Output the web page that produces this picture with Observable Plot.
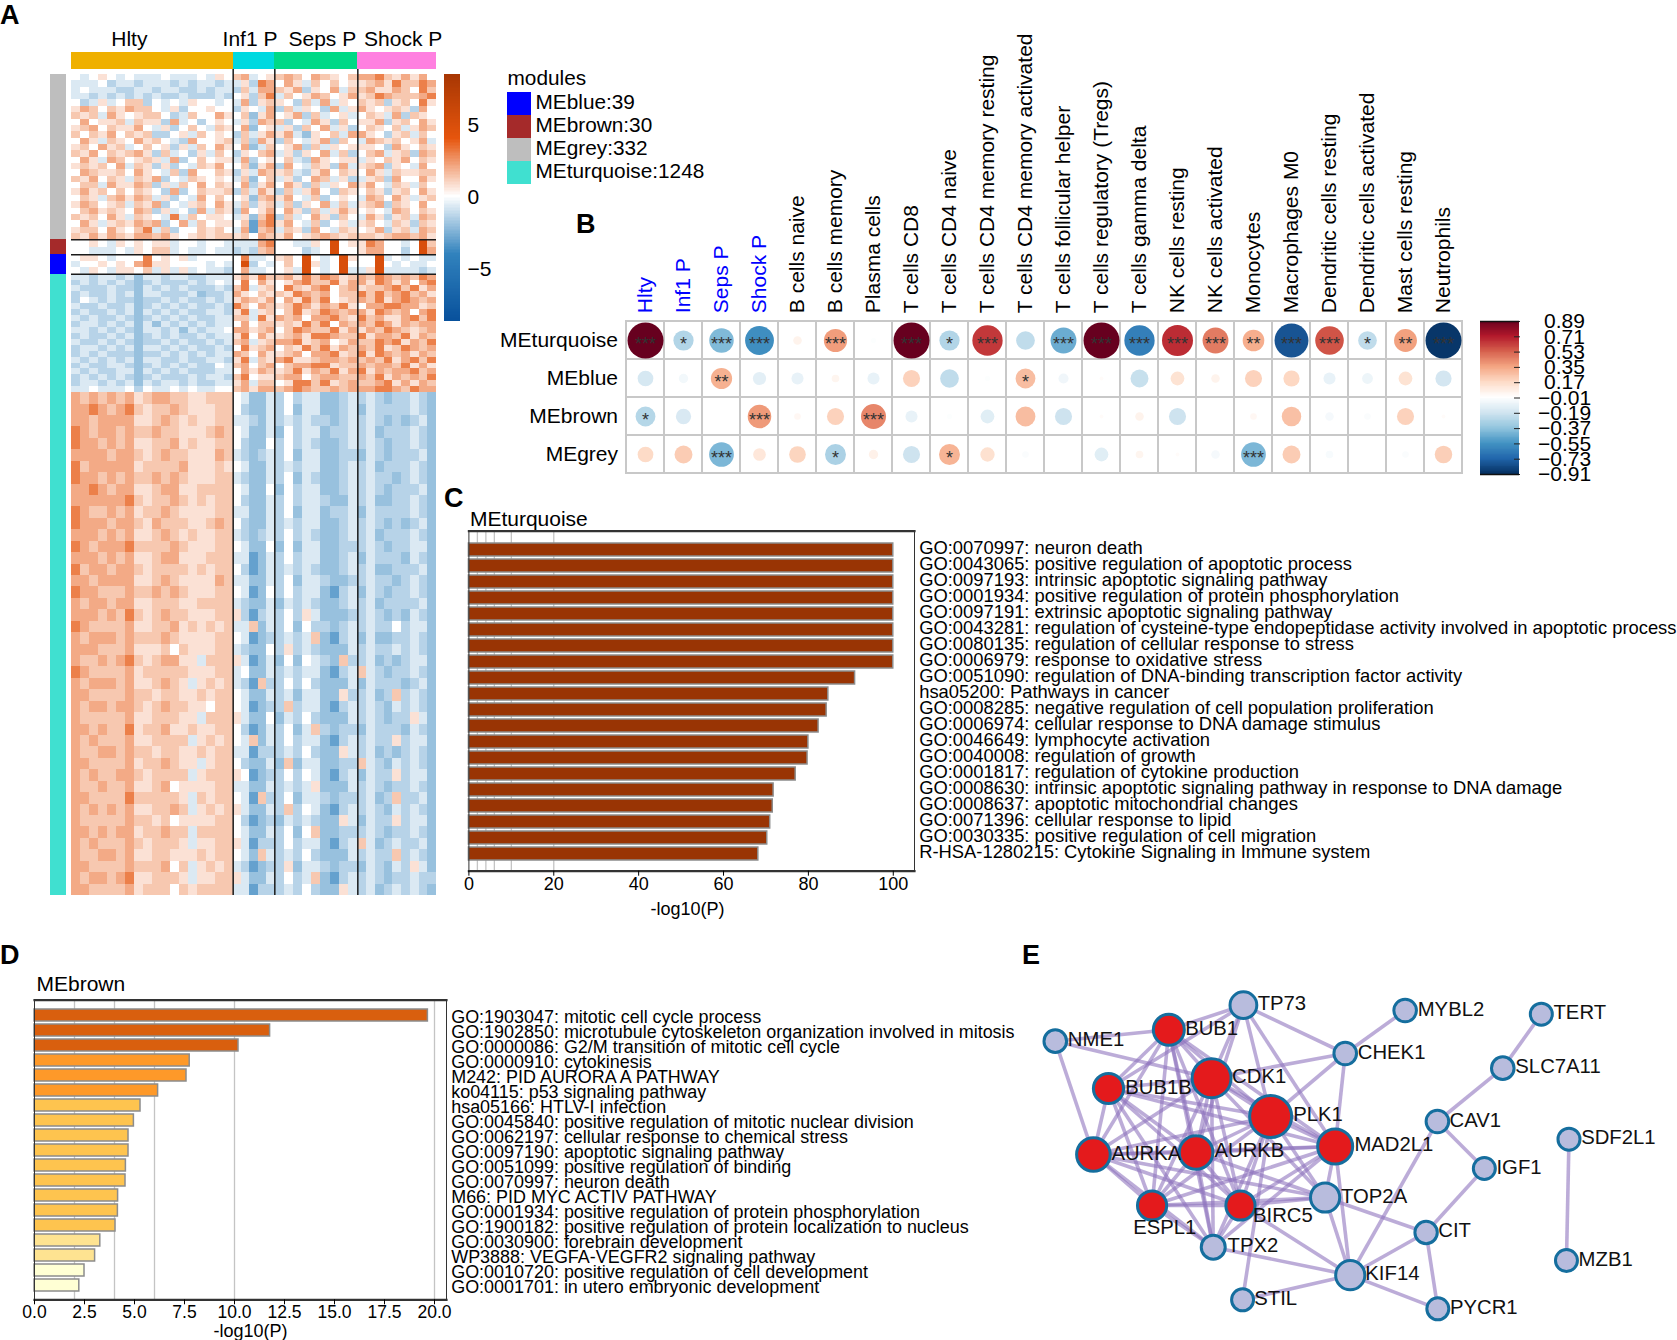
<!DOCTYPE html>
<html lang="en">
<head>
<meta charset="utf-8">
<title>Module, immune and enrichment panels</title>
<script src="https://cdn.jsdelivr.net/npm/d3@7"></script>
<script src="https://cdn.jsdelivr.net/npm/@observablehq/plot@0.6"></script>
<style>
html,body{margin:0;padding:0;background:#fff}
#page{position:relative;width:1677px;height:1340px;overflow:hidden;font-family:"Liberation Sans",Arial,sans-serif;color:#000}
.letter{position:absolute;font-weight:bold;font-size:27px;line-height:27px}
</style>
</head>
<body>
<div id="page"></div>
<script>
/* ---------- Panel A data ---------- */
const groups = ["Hlty", "Inf1 P", "Seps P", "Shock P"];
const groupColors = ["#EFB000", "#00D9E0", "#00D987", "#FF80E0"];
const groupStarts = [0, 35.88, 45.12, 63.54];
const groupEnds = [35.88, 45.12, 63.54, 81];
const groupCols = [18, 5, 9, 9];
const groupLabelShift = [-23, -4, 6, 6];
const modules = ["MEblue", "MEbrown", "MEgrey", "MEturquoise"];
const moduleCounts = [39, 30, 332, 1248];
const moduleColors = ["#0000FF", "#A52A2A", "#BEBEBE", "#40E0D0"];
const heatLevels = [-4, -3, -2, -1.4, -0.7, 0, 0.7, 1.3, 2, 3, 5];
const greyRows = [
"545654544454445465 78456 787587657 889768685",
"444534434443434434 46398 586475756 678697798",
"454443344344334344 37488 768365847 786687597",
"443434343433433343 56379 475687568 679877789",
"534645773545465545 48367 653748465 767367596",
"687576877546355655 36548 374653846 865676385",
"767486567753475586 57268 568374564 576483765",
"585667476638453565 46387 735486375 668367586",
"678576685463575476 58256 463758463 576574687",
"757685767335647565 37468 684265748 865367475",
"586476586754385567 47386 375468375 487675684",
"675867457563647586 58247 568374656 665386576",
"768576786374536475 36578 463658473 578467387",
"586487567648357566 48356 574386566 465768576",
"676758476363547685 57268 385476384 678365485",
"587667586547385576 36487 674368576 586476677",
"768576476835476565 47257 463587463 467385586",
"577486687364758576 58368 586374658 685476475",
"686757576538357667 37486 374685376 576367586",
"576478687463548575 56278 685473565 487586467",
"687567476835467586 47367 473658474 678376585",
"578676587364538476 38568 586374686 565487576",
"767586476549475665 46279 374586375 486367487",
"586467687835847566 57189 685473564 675476376",
"677586579473557675 48178 476385476 568367487",
"768687688786567677 67587 685678767 776788786"];
const brownRows = [
"556546565664554554 44489 554465a56 698554 5a7",
"554445465774544544 34378 555345a55 688553 5a8"];
const blueRows = [
"566545559565645555 59445 675a545a6 55a454544",
"455656589665555454 5a354 575a645a5 55a545445",
"546546657464645443 58445 564a545a4 46a444434"];
const turqUpRows = [
"443443424434433444 68697 786979867 879878798",
"343434323433343454 59586 568977968 869868589",
"433343324343433343 79467 597689578 677897968",
"343343424433342334 86576 769878577 979789786",
"354343323343433434 68768 586979567 879689878",
"433433423434343343 97587 679868796 588998867",
"343343424343433443 69467 579679878 869878589",
"434334323434343344 77496 878588976 978668979",
"344343424243434344 58577 676979587 879868788",
"443434324434243445 88678 579877968 687987678",
"343343423434334344 69586 678699877 968879687",
"433434323343433434 78467 889678568 779896879",
"344343424434343343 59678 576979687 879679878",
"343433323343434344 87586 678588967 969878687",
"434343424433433443 69476 896678878 787968979",
"343344323434343354 78578 578899677 878879686",
"434334424343433344 58687 679687968 968788978",
"343434323433343443 79566 788578877 879687879",
"344343424344343344 68477 569979678 778968687",
"445444535445454455 78688 789877878 889987988"];
const turqDownRows = [
"878787867887766777 54224 353442234 343233432",
"889878976778766677 53224 352442234 243333432",
"887888866787676677 44324 343433234 343232342",
"987887877877666787 54224 253442334 342333432",
"988787866778676677 53225 353432234 343233432",
"888878876787766687 43234 352442233 243233342",
"978888867777866676 54224 343442234 342333432",
"988787877878766677 43224 352432234 343323432",
"889878866788667777 54225 253442234 343233342",
"888888976778767677 53224 353443224 342233432",
"987787867787666677 44224 352442334 243333432",
"988878876877766787 53224 343442234 343232342",
"888787866787676677 43234 353432234 342333432",
"987888977778766677 54225 252442233 343233442",
"888787866788666777 44124 353442234 243332432",
"978878876777767677 53124 343432234 342233342",
"887888866787666687 44224 352443223 343323432",
"988777877878766677 54125 353442134 243233432",
"878878866777667777 43224 243432234 342333342",
"888787976787766677 63134 353642223 343232432",
"987777866778676767 44724 352533234 343353442",
"878887877787666677 54123 343472134 242233432",
"888777866675766677 43225 363432224 343343432",
"877878976788664777 64124 252543273 342323442",
"987777867777766677 45224 343442134 743233432",
"878887866787646767 43173 353532224 243332342",
"887777877677667677 54224 342442263 342373432",
"878878876787766577 54123 373442134 343243432",
"877777866777664777 64225 243532224 343233642",
"887877967786676677 53124 352473233 243332432",
"878777866777746767 54724 353442134 343363442",
"877887877677667677 44133 343532264 342323432",
"887777867787664677 53224 272442233 743243432",
"878778876777746777 65123 353542134 243363442",
"877877866785666677 44224 343462224 343233432",
"887777977777647677 54173 352443233 342373342",
"878787866778746767 64224 373542134 343243432",
"877777877675666677 53123 243432264 243363442",
"887878867787747777 54224 352572233 343233432",
"878777876777646677 64133 353442134 742343342",
"877887866776667677 54274 343532224 343373432",
"887777877785746767 43123 362443233 243243642",
"878878966777646677 64224 353472134 343233433",
"887777867775767777 44133 343532264 342343432"];
const blockRows = [greyRows, brownRows, blueRows, turqUpRows, turqDownRows];
const blockStart = [0, 332, 362, 401, 639];
const blockEnd = [332, 362, 401, 639, 1649];
const sideBars = [["MEgrey", 0, 332], ["MEbrown", 332, 362], ["MEblue", 362, 401], ["MEturquoise", 401, 1649]];
const splitRows = [332, 362, 401];
const splitCols = [35.88, 45.12, 63.54];
const heatTicks = [-5, 0, 5];

/* ---------- Panel B data ---------- */
const traits = ["Hlty","Inf1 P","Seps P","Shock P","B cells naive","B cells memory","Plasma cells","T cells CD8","T cells CD4 naive","T cells CD4 memory resting","T cells CD4 memory activated","T cells follicular helper","T cells regulatory (Tregs)","T cells gamma delta","NK cells resting","NK cells activated","Monocytes","Macrophages M0","Dendritic cells resting","Dendritic cells activated","Mast cells resting","Neutrophils"];
const corrModules = ["MEturquoise", "MEblue", "MEbrown", "MEgrey"];
const corrTurquoise = [.89,-.28,-.41,-.57,.05,.37,-.02,.89,-.28,.63,-.24,-.46,.89,-.63,.66,.46,.32,-.79,.56,-.24,.36,-.89];
const corrBlue = [-.17,-.06,.31,-.12,-.1,.04,-.1,.2,-.24,-.02,.27,-.07,.01,-.22,.13,.05,.2,.18,-.1,-.08,.13,-.18];
const corrBrown = [-.27,-.16,0,.38,.03,.2,.43,-.1,-.02,-.13,.27,-.2,.01,.05,-.2,0,.03,.26,-.05,-.03,.2,.01];
const corrGrey = [.17,.22,-.42,.11,.19,-.3,.06,-.2,.3,.14,-.03,0,-.13,.04,.01,-.05,-.42,.22,-.04,0,-.03,.21];
const starsTurquoise = ["***","*","***","***","","***","","***","*","***","","***","***","***","***","***","**","***","***","*","**","***"];
const starsBlue = ["","","**","","","","","","","","*","","","","","","","","","","",""];
const starsBrown = ["*","","","***","","","***","","","","","","","","","","","","","","",""];
const starsGrey = ["","","***","","","*","","","*","","","","","","","","***","","","","",""];
const corrTicks = [.89,.71,.53,.35,.17,-.01,-.19,-.37,-.55,-.73,-.91];
const corrColors = ["#67001F","#B2182B","#D6604D","#F4A582","#FDDBC7","#FFFFFF","#D1E5F0","#92C5DE","#4393C3","#2166AC","#053061"];

/* ---------- Panel C data ---------- */
const turqTerms = ["GO:0070997: neuron death","GO:0043065: positive regulation of apoptotic process","GO:0097193: intrinsic apoptotic signaling pathway","GO:0001934: positive regulation of protein phosphorylation","GO:0097191: extrinsic apoptotic signaling pathway","GO:0043281: regulation of cysteine-type endopeptidase activity involved in apoptotic process","GO:0080135: regulation of cellular response to stress","GO:0006979: response to oxidative stress","GO:0051090: regulation of DNA-binding transcription factor activity","hsa05200: Pathways in cancer","GO:0008285: negative regulation of cell population proliferation","GO:0006974: cellular response to DNA damage stimulus","GO:0046649: lymphocyte activation","GO:0040008: regulation of growth","GO:0001817: regulation of cytokine production","GO:0008630: intrinsic apoptotic signaling pathway in response to DNA damage","GO:0008637: apoptotic mitochondrial changes","GO:0071396: cellular response to lipid","GO:0030335: positive regulation of cell migration","R-HSA-1280215: Cytokine Signaling in Immune system"];
const turqValues = [100,100,100,100,100,100,100,100,91,84.7,84.3,82.4,80,79.8,77,71.8,71.6,71,70.3,68.2];
const turqGrid = [2,4,6,10,20];
const turqTicks = [0,20,40,60,80,100];

/* ---------- Panel D data ---------- */
const brownTerms = ["GO:1903047: mitotic cell cycle process","GO:1902850: microtubule cytoskeleton organization involved in mitosis","GO:0000086: G2/M transition of mitotic cell cycle","GO:0000910: cytokinesis","M242: PID AURORA A PATHWAY","ko04115: p53 signaling pathway","hsa05166: HTLV-I infection","GO:0045840: positive regulation of mitotic nuclear division","GO:0062197: cellular response to chemical stress","GO:0097190: apoptotic signaling pathway","GO:0051099: positive regulation of binding","GO:0070997: neuron death","M66: PID MYC ACTIV PATHWAY","GO:0001934: positive regulation of protein phosphorylation","GO:1900182: positive regulation of protein localization to nucleus","GO:0030900: forebrain development","WP3888: VEGFA-VEGFR2 signaling pathway","GO:0010720: positive regulation of cell development","GO:0001701: in utero embryonic development"];
const brownValues = [19.67,11.78,10.2,7.76,7.6,6.18,5.3,4.97,4.7,4.7,4.57,4.55,4.18,4.17,4.05,3.29,3.03,2.5,2.24];
const brownGrid = [2,4,6,10,20];
const brownTicks = [0,2.5,5,7.5,10,12.5,15,17.5,20];
const pBins = [3,4,6,10,20];
const pColors = ["#FFFFD4","#FEE391","#FEC44F","#FE9929","#D95F0E","#993404"];

/* ---------- Panel E data ---------- */
const geneNames = ["TP73","BUB1","NME1","CDK1","BUB1B","CHEK1","MYBL2","TERT","SLC7A11","PLK1","CAV1","MAD2L1","AURKA","AURKB","SDF2L1","IGF1","TOP2A","ESPL1","BIRC5","CIT","TPX2","KIF14","MZB1","STIL","PYCR1"];
const geneX = [532,354,83,456,210,775,918,1243,1151,597,995,751,174,419,1309,1107,727,314,525,968,460,787,1303,530,996];
const geneY = [224,298,332,443,474,369,240,251,413,558,573,648,672,666,626,714,801,825,825,906,950,1034,990,1108,1135];
const geneSize = [13.4,15.5,11.3,19.5,15.1,11.3,11.3,11,11.3,21,11.3,17.5,16.8,16.8,11,11,14.6,14.6,14.6,11.2,12,14.6,11,11,11];
const geneLabelX = [566,393,113,505,250,805,948,1272,1181,651,1024,797,217,463,1338,1136,765,269,555,997,494,823,1332,558,1025];
const geneLabelY = [220,294,328,437,470,365,236,247,409,553,569,642,668,660,621,710,797,892,856,901,945,1028,986,1105,1130];
const hubGenes = ["BUB1","CDK1","BUB1B","PLK1","MAD2L1","AURKA","AURKB","ESPL1","BIRC5"];
const extraLinks = {
  TP73:["BUB1","CDK1","PLK1","BUB1B","CHEK1","AURKB","MAD2L1"],
  NME1:["BUB1","AURKA","CDK1"],
  CHEK1:["CDK1","PLK1","MAD2L1","MYBL2"],
  TPX2:["BIRC5","ESPL1","AURKA","AURKB","BUB1","CDK1","PLK1","BUB1B","MAD2L1","KIF14"],
  TOP2A:["PLK1","CDK1","MAD2L1","AURKA","AURKB","BIRC5","ESPL1","KIF14","CIT"],
  STIL:["KIF14","PLK1"],
  KIF14:["BIRC5","MAD2L1","CIT","PYCR1","CAV1"],
  CIT:["IGF1","PYCR1"],
  CAV1:["IGF1","SLC7A11"],
  SLC7A11:["TERT"],
  SDF2L1:["MZB1"]
};

/* ---------- Helpers ---------- */
const page = document.getElementById("page");
const baseStyle = {background:"transparent", fontFamily:'"Liberation Sans",Arial,sans-serif', color:"#000", overflow:"visible"};
function mount(node, left, top){
  node.style.position = "absolute"; node.style.left = left+"px"; node.style.top = top+"px"; node.style.maxWidth = "none";
  page.append(node);
}
function letter(t, left, top){
  const d = document.createElement("div"); d.className = "letter"; d.textContent = t;
  d.style.left = left+"px"; d.style.top = top+"px"; page.append(d);
}
letter("A",0,2); letter("B",576,211); letter("C",444,485); letter("D",0,942); letter("E",1022,942);

/* ---------- Panel A heatmap ---------- */
const levelKey = "0123456789a";
const colEdges = [];
groupCols.forEach((n,g)=>{
  for(let k=0;k<n;k++) colEdges.push([groupStarts[g]+k*(groupEnds[g]-groupStarts[g])/n, groupStarts[g]+(k+1)*(groupEnds[g]-groupStarts[g])/n]);
});
const cells = [];
blockRows.forEach((rows,b)=>{
  const h = (blockEnd[b]-blockStart[b])/rows.length;
  rows.forEach((row,i)=>{
    const chars = [...row.replace(/ /g,"")];
    if(chars.length!==41) throw new Error("row length "+chars.length+" in block "+b+" row "+i);
    chars.forEach((ch,j)=>{
      cells.push({c1:colEdges[j][0],c2:colEdges[j][1],g1:blockStart[b]+i*h,g2:blockStart[b]+(i+1)*h,v:heatLevels[levelKey.indexOf(ch)]});
    });
  });
});
const heatColor = {type:"linear",domain:[-8.6,-4,0,4,8.5],range:["#08519C","#3182BD","#FFFFFF","#E6550D","#A63603"]};
const groupRows = groups.map((g,i)=>({g,s:groupStarts[i],e:groupEnds[i],col:groupColors[i],shift:groupLabelShift[i]}));
mount(Plot.plot({
  width:720,height:905,marginTop:0,marginBottom:0,marginLeft:0,marginRight:0,style:baseStyle,
  x:{axis:null,domain:[-4.77,81],range:[49.5,436]},
  y:{axis:null,domain:[0,1649],range:[74,895]},
  color:heatColor,
  marks:[
    Plot.rect(cells,{x1:"c1",x2:"c2",y1:"g1",y2:"g2",fill:"v",shapeRendering:"crispEdges"}),
    Plot.rect(sideBars,{x1:()=>-4.77,x2:()=>-1.11,y1:d=>d[1],y2:d=>d[2],fill:{value:d=>moduleColors[modules.indexOf(d[0])],scale:null},shapeRendering:"crispEdges"}),
    Plot.rect(groupRows,{x1:"s",x2:"e",y1:()=>-44,y2:()=>-10,fill:{value:"col",scale:null},shapeRendering:"crispEdges"}),
    Plot.ruleX(splitCols,{y1:()=>-10,y2:()=>1649,stroke:"#1a1a1a",strokeWidth:1.5}),
    Plot.ruleY(splitRows,{x1:()=>0,x2:()=>81,stroke:"#1a1a1a",strokeWidth:1.5}),
    ...groupRows.map(d=>Plot.text([d],{x:r=>(r.s+r.e)/2,y:()=>-70,dx:d.shift,text:"g",fontSize:21,fill:"#000"}))
  ]
}),0,0);

/* colour bar of panel A */
const heatBar = d3.range(-8.6,8.5,0.1).map(v=>({v}));
mount(Plot.plot({
  width:70,height:260,marginTop:4,marginBottom:9,marginLeft:4,marginRight:50,style:baseStyle,
  x:{axis:null,domain:[0,1]},
  y:{domain:[-8.6,8.5],label:null,axis:null},
  color:heatColor,
  marks:[
    Plot.rect(heatBar,{x1:()=>0,x2:()=>1,y1:"v",y2:d=>d.v+0.11,fill:"v",shapeRendering:"crispEdges"}),
    Plot.axisY(heatTicks,{anchor:"right",tickSize:0,tickPadding:7,fontSize:21,label:null,fill:"#000"})
  ]
}),440,70);

/* module legend */
const legendRows = modules.map((m,i)=>({m,label:m+":"+moduleCounts[i],col:moduleColors[i]}));
mount(Plot.plot({
  width:230,height:98,marginTop:0,marginBottom:3,marginLeft:0,marginRight:206,style:baseStyle,
  x:{axis:null,domain:[0,1]},
  y:{axis:null,type:"band",domain:modules,padding:0},
  marks:[
    Plot.barX(legendRows,{x1:()=>0,x2:()=>1,y:"m",fill:{value:"col",scale:null},shapeRendering:"crispEdges"}),
    Plot.text(legendRows,{y:"m",text:"label",frameAnchor:"right",dx:4,dy:-1.5,textAnchor:"start",fontSize:20.8})
  ]
}),507,90);
mount(Plot.plot({
  width:120,height:28,margin:0,style:baseStyle,x:{axis:null},y:{axis:null},
  marks:[Plot.text(["modules"],{frameAnchor:"left",textAnchor:"start",fontSize:20.8})]
}),507,64);

/* ---------- Panel B correlation ---------- */
const corrSeries = [corrTurquoise,corrBlue,corrBrown,corrGrey];
const starSeries = [starsTurquoise,starsBlue,starsBrown,starsGrey];
const corrCells = corrModules.flatMap((m,i)=>traits.map((t,j)=>({m,t,v:corrSeries[i][j],s:starSeries[i][j]})));
const corrStops = corrTicks.slice().reverse();
const corrColorScale = {type:"linear",domain:corrStops,range:corrColors.slice().reverse()};
mount(Plot.plot({
  width:1197,height:480,marginTop:320.7,marginBottom:6,marginLeft:145.5,marginRight:214.6,style:baseStyle,
  x:{axis:null,type:"band",domain:traits,padding:0},
  y:{axis:null,type:"band",domain:corrModules,padding:0},
  color:corrColorScale,
  r:{type:"sqrt",domain:[0,.89],range:[0,18]},
  marks:[
    Plot.cell(corrCells,{x:"t",y:"m",fill:"white",stroke:"#C8C8C8",strokeWidth:2}),
    Plot.dot(corrCells,{x:"t",y:"m",r:d=>Math.abs(d.v),fill:"v"}),
    Plot.text(corrCells.filter(d=>d.s),{x:"t",y:"m",text:"s",fontSize:18,dy:4,fill:"#333"}),
    Plot.text(traits.slice(0,4),{x:d=>d,frameAnchor:"top",lineAnchor:"middle",dy:-8,rotate:-90,textAnchor:"start",fontSize:21,fill:"#0000FF"}),
    Plot.text(traits.slice(4),{x:d=>d,frameAnchor:"top",lineAnchor:"middle",dy:-8,rotate:-90,textAnchor:"start",fontSize:21,fill:"#000"}),
    Plot.text(corrModules,{y:d=>d,frameAnchor:"left",dx:-8,textAnchor:"end",fontSize:21,fill:"#000"})
  ]
}),480,0);

/* colour bar of panel B */
const corrBar = d3.range(-.91,.89,0.01).map(v=>({v}));
mount(Plot.plot({
  width:160,height:170,marginTop:6,marginBottom:11,marginLeft:4,marginRight:117,style:baseStyle,
  x:{axis:null,domain:[0,1]},
  y:{axis:null,domain:[-.91,.89]},
  color:corrColorScale,
  marks:[
    Plot.rect(corrBar,{x1:()=>0,x2:()=>1,y1:"v",y2:d=>d.v+0.011,fill:"v",shapeRendering:"crispEdges"}),
    Plot.axisY(corrTicks,{anchor:"right",tickSize:-6,tickFormat:()=>"",label:null,stroke:"#222"}),
    Plot.text(corrTicks,{y:d=>d,text:d=>d3.format(".2f")(d),frameAnchor:"right",dx:45,textAnchor:"middle",fontSize:21,fill:"#000"}),
    Plot.ruleY([-.91,.89],{stroke:"#111",strokeWidth:1.5})
  ]
}),1475.5,314.7);

/* ---------- Enrichment bars ---------- */
function enrichment(o){
  mount(Plot.plot({
    width:o.w,height:o.h,marginTop:o.top,marginBottom:o.bottom,marginLeft:o.left,marginRight:o.right,style:baseStyle,
    x:{axis:null,domain:o.xd},
    y:{axis:null,type:"band",domain:o.terms,range:o.yr,padding:o.pad},
    color:{type:"threshold",domain:pBins,range:pColors},
    marks:[
      Plot.ruleX(o.grid,{stroke:"#C4C4C4",strokeWidth:1.3}),
      Plot.barX(o.values.map((v,i)=>({t:o.terms[i],v})),{x:"v",y:"t",fill:"v",stroke:"#8C8C8C",strokeWidth:1.5}),
      Plot.frame({stroke:"#333",strokeWidth:1}),
      Plot.frame({anchor:"top",stroke:"#333",strokeWidth:2.2}),
      Plot.frame({anchor:"bottom",stroke:"#333",strokeWidth:2.2}),
      Plot.axisX(o.ticks,{anchor:"bottom",tickSize:5,tickPadding:o.tp,fontSize:o.tickFont,label:null,tickFormat:o.fmt,fill:"#000"}),
      Plot.text(o.terms,{y:d=>d,frameAnchor:"right",dx:o.labelDx,dy:o.labelDy,textAnchor:"start",fontSize:o.labelFont,fill:"#000"}),
      Plot.text([o.title],{frameAnchor:"top-left",lineAnchor:"middle",dy:o.titleDy,dx:o.titleDx,textAnchor:"start",fontSize:21,fill:"#000"}),
      Plot.text(["-log10(P)"],{x:o.xl,frameAnchor:"bottom",lineAnchor:"middle",dy:o.xlDy,fontSize:18,fill:"#000"})
    ]
  }),o.x,o.y);
}
enrichment({x:440,y:490,w:1237,h:440,top:40.7,bottom:59.3,left:28.4,right:763,xd:[0,105],terms:turqTerms,values:turqValues,
  yr:[537.8-490,864.4-490],pad:.18,grid:turqGrid,ticks:turqTicks,fmt:d3.format("d"),tp:1,tickFont:18,labelDx:4.7,labelDy:-1.5,labelFont:18.36,
  title:"MEturquoise",titleDy:-11.7,titleDx:1,xl:51.5,xlDy:38});
enrichment({x:0,y:930,w:1030,h:410,top:69.7,bottom:40.7,left:34,right:584,xd:[0,20.6],terms:brownTerms,values:brownValues,
  yr:[1006-930,1294-930],pad:.2,grid:brownGrid,ticks:brownTicks,fmt:d3.format(".1f"),tp:1,tickFont:17.5,labelDx:4.7,labelDy:1.5,labelFont:17.95,
  title:"MEbrown",titleDy:-15.7,titleDx:2,xl:10.8,xlDy:31});

/* ---------- Panel E network ---------- */
const nodes = geneNames.map((g,i)=>({g,x:geneX[i],y:geneY[i],r:geneSize[i],lx:geneLabelX[i],ly:geneLabelY[i],hub:hubGenes.includes(g)}));
const byName = new Map(nodes.map(n=>[n.g,n]));
const links = [];
hubGenes.forEach((a,i)=>hubGenes.slice(i+1).forEach(b=>links.push([a,b])));
Object.entries(extraLinks).forEach(([a,list])=>list.forEach(b=>links.push([a,b])));
mount(Plot.plot({
  width:657,height:410,margin:0,style:baseStyle,
  x:{axis:null,domain:[0,1568],range:[0,657]},
  y:{axis:null,domain:[0,1230],range:[0,410]},
  r:{type:"linear",domain:[0,21],range:[0,21]},
  marks:[
    Plot.link(links,{x1:d=>byName.get(d[0]).x,y1:d=>byName.get(d[0]).y,x2:d=>byName.get(d[1]).x,y2:d=>byName.get(d[1]).y,stroke:"#8F74BE",strokeOpacity:.6,strokeWidth:3.6}),
    Plot.dot(nodes,{x:"x",y:"y",r:"r",fill:{value:d=>d.hub?"#E41A1C":"#B8BCDD",scale:null},stroke:"#156E9E",strokeWidth:3}),
    Plot.text(nodes,{x:"lx",y:"ly",text:"g",textAnchor:"start",fontSize:20.3,fill:"#111"})
  ]
}),1020,930);
</script>
</body>
</html>
